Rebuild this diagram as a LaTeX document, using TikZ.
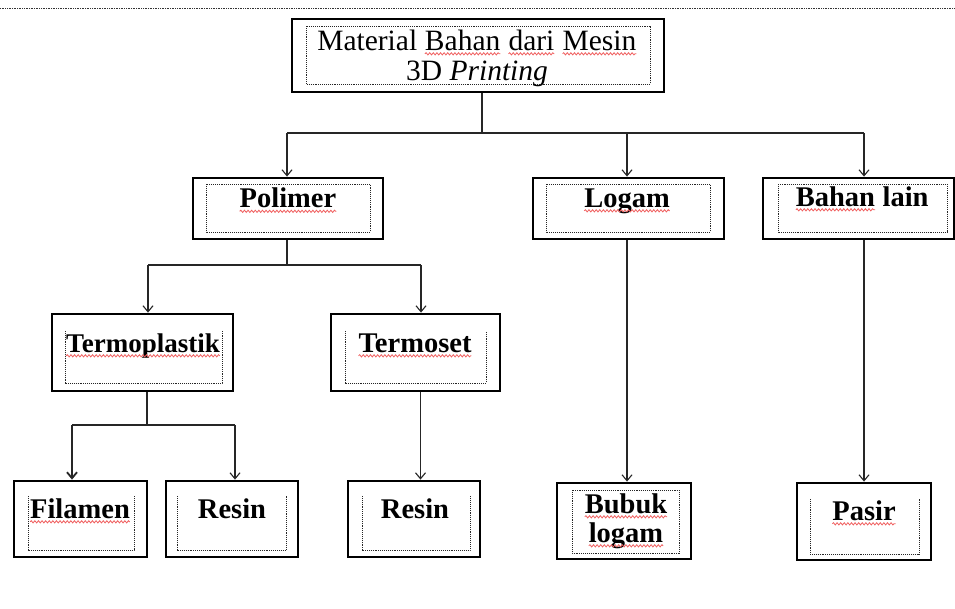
\documentclass[tikz,border=0pt]{standalone}
\usepackage{fontspec}
\setmainfont{Liberation Serif}
\usetikzlibrary{arrows.meta,decorations.pathmorphing}
\definecolor{squig}{RGB}{240,95,95}
\newcommand\sq[1]{\tikz[baseline=(sqw.base)]{\node[inner sep=0pt,outer sep=0pt,anchor=base,draw=none] (sqw) at (0,0) {#1};\draw[draw=squig,line width=0.8pt,decorate,decoration={snake,amplitude=1.1pt,segment length=3.6pt}] ([yshift=-3.8pt]sqw.base west) -- ([yshift=-3.8pt]sqw.base east);}}
\tikzset{
  outerbox/.style={draw, line width=2.8pt, inner sep=0pt, minimum width=#1},
  innerbox/.style={draw=black!85, line width=0.8pt, dash pattern=on 1pt off 0.9pt},
  conn/.style={draw=black!85, line width=1.1pt},
  arr/.style={conn, -{Straight Barb[length=6pt,width=10pt]}},
  lbl/.style={anchor=base, inner sep=0pt, font=\fontsize{28.5}{29}\selectfont\bfseries},
  toplbl/.style={anchor=base, inner sep=0pt, align=center, font=\fontsize{29.5}{30}\selectfont}
}
\begin{document}
\begin{tikzpicture}[x=1pt,y=-1pt]
\useasboundingbox (0,0) rectangle (955,608);
\fill[white] (0,0) rectangle (955,608);
\draw[black!80, line width=0.7pt, densely dotted] (0,8) -- (955,8);

% outer boxes
\node[outerbox=372pt, minimum height=73pt] (top)   at (478,55.5) {};
\node[outerbox=190pt, minimum height=61pt] (poli)  at (288,208.5) {};
\node[outerbox=191pt, minimum height=61pt] (logam) at (628.5,208.5) {};
\node[outerbox=191pt, minimum height=61pt] (lain)  at (858.5,208.5) {};
\node[outerbox=181pt, minimum height=77pt] (termop) at (142.5,352.5) {};
\node[outerbox=169pt, minimum height=77pt] (termos) at (415.5,352.5) {};
\node[outerbox=133pt, minimum height=76pt] (fila)  at (80.5,519) {};
\node[outerbox=132pt, minimum height=76pt] (resa)  at (232,519) {};
\node[outerbox=132pt, minimum height=76pt] (resb)  at (414,519) {};
\node[outerbox=134pt, minimum height=76pt] (bubuk) at (624,521) {};
\node[outerbox=134pt, minimum height=77pt] (pasir) at (864,521.5) {};

% inner dotted frames
\draw[innerbox] (306,26) rectangle (650,84);
\draw[innerbox] (206,184) rectangle (370,232);
\draw[innerbox] (546,184) rectangle (710,232);
\draw[innerbox] (778,184) rectangle (947,232);
\draw[innerbox] (65,331) -- (65,383) -- (222,383) -- (222,331);
\draw[innerbox] (345,331) -- (345,383) -- (486,383) -- (486,331);
\draw[innerbox] (28,496) -- (28,550) -- (134,550) -- (134,496);
\draw[innerbox] (177,496) -- (177,550) -- (286,550) -- (286,496);
\draw[innerbox] (362,496) -- (362,550) -- (470,550) -- (470,496);
\draw[innerbox] (572,490) rectangle (679,553);
\draw[innerbox] (810,499) -- (810,554) -- (919,554) -- (919,499);

% labels
\node[toplbl] (ttop1) at (477,50) {Material \sq{Bahan} \sq{dari} \sq{Mesin}};
\node[toplbl] (ttop2) at (477,80) {3D \textit{Printing}};
\node[lbl] (tpoli)  at (288,207.5) {\sq{Polimer}};
\node[lbl] (tlogam) at (627,207) {\sq{Logam}};
\node[lbl] (tlain)  at (862,206) {\sq{Bahan} lain};
\node[lbl, font=\fontsize{27}{28}\selectfont\bfseries] (ttermop) at (143,352) {\sq{Termoplastik}};
\node[lbl] (ttermos) at (415,352) {\sq{Termoset}};
\node[lbl] (tfila)  at (80,518) {\sq{Filamen}};
\node[lbl] (tresa)  at (232,518) {Resin};
\node[lbl] (tresb)  at (415,518) {Resin};
\node[lbl] (tbubuk1) at (626,513) {\sq{Bubuk}};
\node[lbl] (tbubuk2) at (626,542) {\sq{logam}};
\node[lbl] (tpasir) at (864,520) {\sq{Pasir}};

% junction coordinates
\coordinate (j0) at (482,133);
\coordinate (j1) at (148,265);
\coordinate (j2) at (72,425);

% connectors from top
\draw[conn, line width=1.9pt] ([xshift=4pt]top.south) -- (j0);
\draw[conn] ([xshift=-1pt]poli.north |- j0) -- (pasir.north |- j0);
\draw[arr] ([xshift=-1pt]poli.north |- j0) -- ([xshift=-1pt]poli.north);
\draw[arr] ([xshift=-1.5pt]logam.north |- j0) -- ([xshift=-1.5pt]logam.north);
\draw[arr] (pasir.north |- j0) -- (pasir.north |- lain.north);

% from Polimer
\draw[conn] ([xshift=-1pt]poli.south) -- ([xshift=-1pt]poli.south |- j1);
\draw[conn] (j1) -- ([xshift=5.5pt]termos.north |- j1);
\draw[arr] (j1) -- ([xshift=5.5pt]termop.north);
\draw[arr] ([xshift=5.5pt]termos.north |- j1) -- ([xshift=5.5pt]termos.north);

% from Termoplastik
\draw[conn] ([xshift=4.5pt]termop.south) -- ([xshift=4.5pt]termop.south |- j2);
\draw[conn] (j2) -- ([xshift=3pt]resa.north |- j2);
\draw[arr, line width=1.8pt] (j2) -- ([xshift=-8.5pt]fila.north);
\draw[arr] ([xshift=3pt]resa.north |- j2) -- ([xshift=3pt]resa.north);

% from Termoset
\draw[arr] ([xshift=5pt]termos.south) -- ([xshift=5pt]termos.south |- resb.north);

% from Logam and Bahan lain
\draw[arr] ([xshift=-1.5pt]logam.south) -- ([xshift=-1.5pt]logam.south |- bubuk.north);
\draw[arr] (pasir.north |- lain.south) -- (pasir.north);
\end{tikzpicture}
\end{document}
